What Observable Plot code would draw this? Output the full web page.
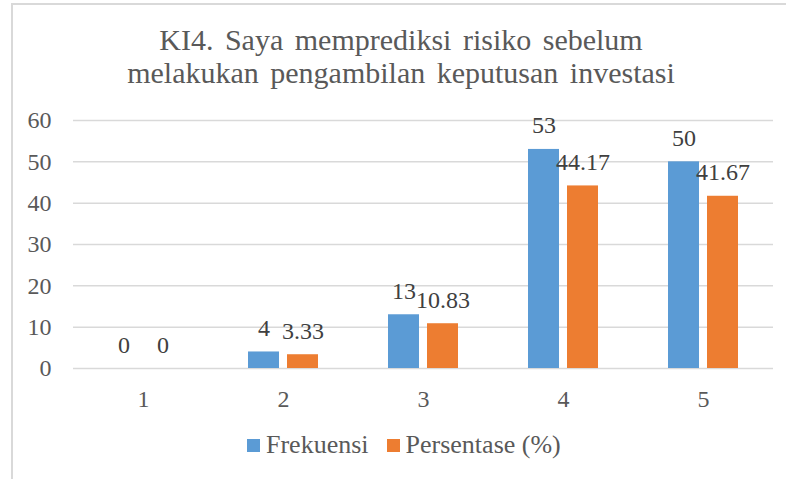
<!DOCTYPE html>
<html>
<head>
<meta charset="utf-8">
<script src="https://cdn.jsdelivr.net/npm/d3@7"></script>
<script src="https://cdn.jsdelivr.net/npm/@observablehq/plot@0.6"></script>
<style>
  html, body { margin: 0; padding: 0; background: #fff; }
  #wrap { position: relative; width: 786px; height: 479px; overflow: hidden; font-family: 'Liberation Serif', serif; }
  #border { position: absolute; left: 11px; top: 3px; width: 790px; height: 490px; border-left: 2px solid #d9d9d9; border-top: 2px solid #d9d9d9; }
  #title { position: absolute; left: 0; width: 802px; top: 23px; text-align: center; font-family: 'Liberation Serif', serif; font-size: 30px; line-height: 33px; color: #595959; word-spacing: 4px; }
  #chart { position: absolute; left: 0; top: 0; }
  #legend { position: absolute; top: 430px; left: 247px; font-family: 'Liberation Serif', serif; font-size: 26px; color: #595959; display: flex; align-items: center; white-space: nowrap; }
  .sw { display: inline-block; width: 13px; height: 13px; margin-right: 6px; }
  .item { display: flex; align-items: center; margin-right: 18px; }
</style>
</head>
<body>
<div id="wrap">
  <div id="border"></div>
  <div id="chart"></div>
  <div id="title">KI4. Saya memprediksi risiko sebelum<br>melakukan pengambilan keputusan investasi</div>
  <div id="legend"></div>
</div>
<script>
const categories = ["1", "2", "3", "4", "5"];
const series = ["Frekuensi", "Persentase (%)"];
const frekuensi = [0, 4, 13, 53, 50];
const persentase = [0, 3.33, 10.83, 44.17, 41.67];
const yTicks = [0, 10, 20, 30, 40, 50, 60];
const colors = ["#5B9BD5", "#ED7D31"];

const data = [];
categories.forEach((c, i) => {
  data.push({cat: c, series: series[0], value: frekuensi[i]});
  data.push({cat: c, series: series[1], value: persentase[i]});
});

const chart = Plot.plot({
  width: 786,
  height: 479,
  marginTop: 120,
  marginBottom: 111,
  marginLeft: 72,
  marginRight: 12,
  style: {fontFamily: "'Liberation Serif', serif", fontSize: "24px", color: "#595959", background: "transparent"},
  facet: {data: data, x: "cat", marginBottom: 111},
  fx: {domain: categories, paddingInner: 0, paddingOuter: 0, axis: "bottom", tickSize: 0, tickPadding: 21, label: null},
  x: {domain: series, paddingInner: 0.2, paddingOuter: 0.855, axis: null},
  y: {domain: [0, 60], ticks: yTicks, tickSize: 0, tickPadding: 22, label: null, tickFormat: d => String(d)},
  color: {domain: series, range: colors},
  marks: [
    Plot.ruleY(yTicks, {stroke: "#d9d9d9", strokeWidth: 1.5}),
    Plot.barY(data, {x: "series", y: "value", fill: "series"}),
    Plot.text(data, {x: "series", y: "value", text: d => String(d.value), lineAnchor: "bottom", dy: -16, fill: "#404040", fontSize: 24, fontFamily: "'Liberation Serif', serif"})
  ]
});
document.getElementById("chart").appendChild(chart);

const legend = document.getElementById("legend");
series.forEach((s, i) => {
  const it = document.createElement("div");
  it.className = "item";
  const sw = document.createElement("span");
  sw.className = "sw";
  sw.style.background = colors[i];
  const t = document.createElement("span");
  t.textContent = s;
  it.appendChild(sw);
  it.appendChild(t);
  legend.appendChild(it);
});
</script>
</body>
</html>
